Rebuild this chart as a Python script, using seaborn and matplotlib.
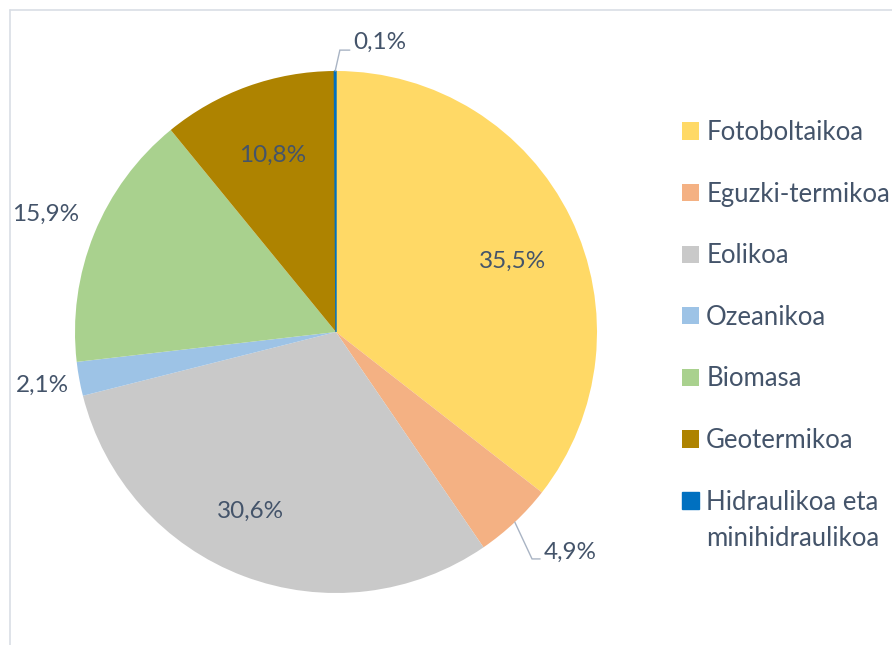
import numpy as np
import matplotlib
matplotlib.use("Agg")
import matplotlib.pyplot as plt
import seaborn as sns
from matplotlib.lines import Line2D
from matplotlib.text import Annotation

# ---------------- data ----------------
categories = ["Fotoboltaikoa", "Eguzki-termikoa", "Eolikoa", "Ozeanikoa",
              "Biomasa", "Geotermikoa", "Hidraulikoa eta minihidraulikoa"]
values = [35.5, 4.9, 30.6, 2.1, 15.9, 10.8, 0.1]
value_labels = ["35,5%", "4,9%", "30,6%", "2,1%", "15,9%", "10,8%", "0,1%"]
colors = ["#FFD966", "#F4B183", "#C9C9C9", "#9DC3E6", "#A9D18E", "#AE8300", "#0070C0"]

# ---------------- style ----------------
sns.set_theme(style="white")
plt.rcParams['font.family'] = ['Lato', 'DejaVu Sans']
TEXT = '#44546A'
LEADER = '#A9B4C4'
FS_PCT = 17.5
FS_LEG = 18.5

W, H = 892, 645
fig = plt.figure(figsize=(W / 100, H / 100), dpi=100)
fig.patch.set_facecolor('white')

# pie placement (pixels)
cx, cy, R = 336, 332, 261
ax = fig.add_axes([(cx - R) / W, (H - cy - R) / H, 2 * R / W, 2 * R / H])
wedges, _ = ax.pie(values, colors=colors, startangle=90, counterclock=False,
                   radius=1, wedgeprops=dict(linewidth=0))
# the tiny slice gets a hairline edge so it stays visible
wedges[-1].set_edgecolor(colors[-1])
wedges[-1].set_linewidth(1.0)
ax.set_xlim(-1, 1)
ax.set_ylim(-1, 1)
ax.set_aspect('equal')
ax.axis('off')

# label layout: radial distance and angular nudge (deg) relative to wedge middle
plain_layout = {
    0: (0.728, -4.2),
    2: (0.76, -4.7),
    3: (1.145, 0.0),
    4: (1.20, 0.0),
    5: (0.72, 0.0),
}
# leader layout: elbow offset (data units), horizontal length, text raise
leader_layout = {
    1: ((0.066, -0.141), 0.031, 0.027),
    6: ((0.018, 0.080), 0.038, 0.031),
}

for i, w in enumerate(wedges):
    mid = np.deg2rad((w.theta1 + w.theta2) / 2)
    if i in plain_layout:
        r, dth = plain_layout[i]
        a = mid + np.deg2rad(dth)
        ax.text(r * np.cos(a), r * np.sin(a), value_labels[i], ha='center',
                va='center', fontsize=FS_PCT, color=TEXT, clip_on=False)
    else:
        (ex, ey), hl, raise_ = leader_layout[i]
        px, py = np.cos(mid), np.sin(mid)
        elx, ely = px + ex, py + ey
        ax.plot([px, elx, elx + hl], [py, ely, ely], color=LEADER, lw=1,
                clip_on=False, solid_joinstyle='miter')
        ax.text(elx + hl + 0.012, ely + raise_, value_labels[i], ha='left',
                va='center', fontsize=FS_PCT, color=TEXT, clip_on=False)

# legend
legend_labels = categories[:-1] + ["Hidraulikoa eta"]
leg = fig.legend(wedges, legend_labels, loc='upper left',
                 bbox_to_anchor=(682 / W, 1 - 120 / H), frameon=False,
                 fontsize=FS_LEG, handlelength=0.66, handleheight=0.66,
                 handletextpad=0.28, labelspacing=1.425, borderpad=0,
                 borderaxespad=0, labelcolor=TEXT)
ann = Annotation("minihidraulikoa", xy=(0, 0), xycoords=leg.get_texts()[-1],
                 xytext=(0, -36), textcoords='offset pixels', ha='left',
                 va='bottom', fontsize=FS_LEG, color=TEXT, annotation_clip=False)
ann.set_zorder(10)
fig.add_artist(ann)

# chart area border (top and left visible)
bc = '#D9DEE5'
fig.add_artist(Line2D([9.5 / W, 1], [1 - 9.5 / H, 1 - 9.5 / H],
                      transform=fig.transFigure, color=bc, lw=1.2))
fig.add_artist(Line2D([9.5 / W, 9.5 / W], [0, 1 - 9.5 / H],
                      transform=fig.transFigure, color=bc, lw=1.2))

fig.savefig("out.png", dpi=100)
